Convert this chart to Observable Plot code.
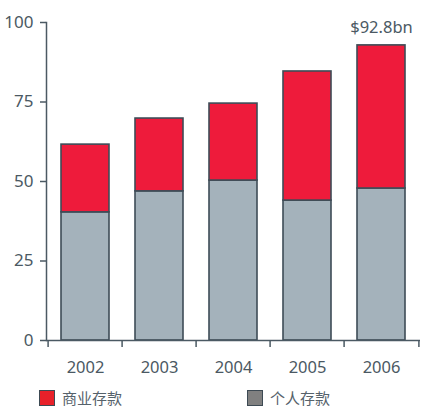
<!DOCTYPE html>
<html><head><meta charset="utf-8">
<script src="https://cdn.jsdelivr.net/npm/d3@7"></script>
<script src="https://cdn.jsdelivr.net/npm/@observablehq/plot@0.6"></script>
<style>
body{margin:0;background:#fff;}
#wrap{position:relative;width:422px;height:410px;font-family:"Noto Sans","Open Sans",sans-serif;}
.leg{position:absolute;top:387px;display:flex;align-items:center;font-family:"Noto Sans CJK SC","Noto Sans",sans-serif;font-size:15px;color:#56626b;}
.sw{width:14px;height:14px;border:1.5px solid #3d4a54;margin-right:7px;}
</style></head>
<body><div id="wrap"></div>
<script>
const years = ["2002","2003","2004","2005","2006"];
const personal = [40.3, 46.9, 50.3, 44.0, 47.8];
const business = [21.3, 22.9, 24.2, 40.6, 45.0];
const seriesNames = ["个人存款","商业存款"];
const yTicks = [0,25,50,75,100];
const annotationYear = "2006";
const annotationText = "$92.8bn";

const data = [];
years.forEach((y,i)=>{
  data.push({year:y, series:seriesNames[0], value:personal[i]});
  data.push({year:y, series:seriesNames[1], value:business[i]});
});
const totals = years.map((y,i)=>({year:y, total: personal[i]+business[i]}));
const ann = totals.filter(d=>d.year===annotationYear).map(d=>({...d, label:annotationText}));

const ink = "#4b5963";
const chart = Plot.plot({
  width:422, height:380,
  marginLeft:46, marginRight:2, marginTop:22, marginBottom:40,
  style:{fontFamily:'"Noto Sans","Open Sans",sans-serif', color: ink, background:"#fff"},
  x:{domain:years, paddingInner:0.35, paddingOuter:0.175, label:null, axis:null},
  y:{domain:[0,100], label:null, axis:null},
  color:{domain:seriesNames, range:["#a4b2bb","#ee1b3b"]},
  marks:[
    Plot.barY(data,{x:"year", y:"value", fill:"series", order:seriesNames, stroke:"#3e4c57", strokeWidth:1.6}),
    Plot.frame({anchor:"left", stroke:ink, strokeWidth:1.5}),
    Plot.ruleY([0],{stroke:ink, strokeWidth:1.5}),
    Plot.axisY({ticks:yTicks, tickSize:6, tickPadding:7, fontSize:17, stroke:ink, strokeWidth:1.5, fill:ink, label:null}),
    Plot.axisX({tickSize:0, tickPadding:21, fontSize:16.5, fill:ink, label:null}),
    Plot.axisX({tickSize:7, tickFormat:()=>"", dx:-37.4, stroke:ink, strokeWidth:1.5, label:null}),
    Plot.axisX({ticks:[years[years.length-1]], tickSize:7, tickFormat:()=>"", dx:37.4, stroke:ink, strokeWidth:1.5, label:null}),
    Plot.text(ann,{x:"year", y:"total", text:"label", lineAnchor:"bottom", dy:-12, fontSize:16.5, fill:ink})
  ]
});
const wrap = document.getElementById("wrap");
wrap.appendChild(chart);
const legendColors = ["#e8212a","#808080"];
const legendItems = [[seriesNames[1], legendColors[0], 39],[seriesNames[0], legendColors[1], 247]];
legendItems.forEach(([name,col,left])=>{
  const d = document.createElement("div");
  d.className="leg"; d.style.left=left+"px";
  d.innerHTML = `<div class="sw" style="background:${col}"></div><span>${name}</span>`;
  wrap.appendChild(d);
});
</script></body></html>
